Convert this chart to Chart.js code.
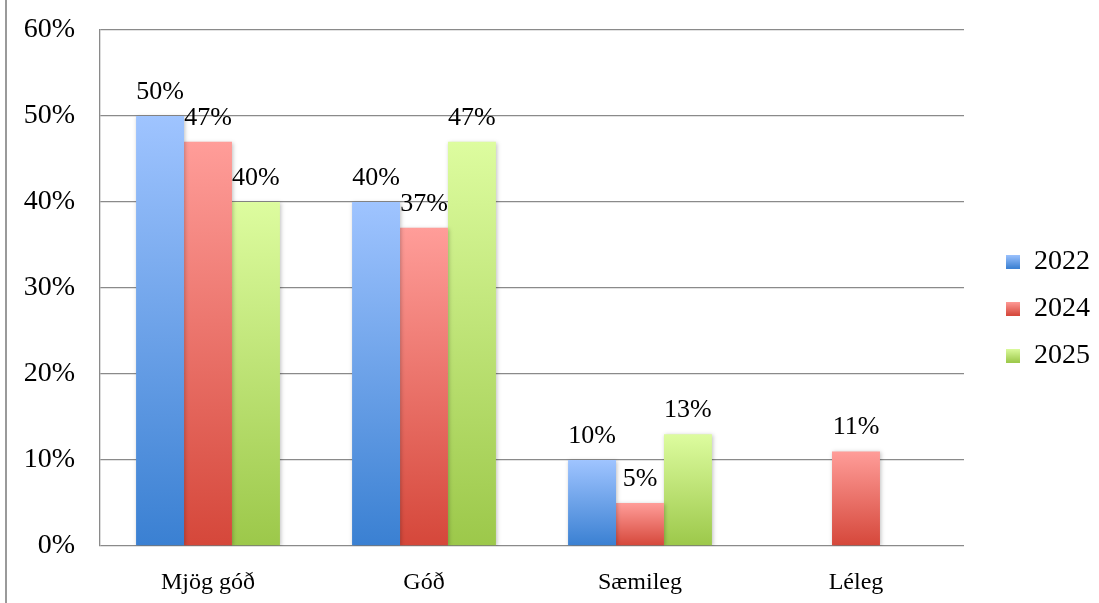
<!DOCTYPE html>
<html>
<head>
<meta charset="utf-8">
<script src="https://cdn.jsdelivr.net/npm/chart.js@4/dist/chart.umd.min.js"></script>
<style>
  html, body { margin: 0; padding: 0; background: #fff; }
  #wrap { position: relative; width: 1099px; height: 603px; }
  #edge { position: absolute; left: 5px; top: 0; width: 2px; height: 603px; background: #9a9a9a; }
</style>
</head>
<body>
<div id="wrap">
  <div id="edge"></div>
  <canvas id="chart"></canvas>
</div>
<script>
const categories = ['Mjög góð', 'Góð', 'Sæmileg', 'Léleg'];
const years = ['2022', '2024', '2025'];
const values2022 = [50, 40, 10, null];
const values2024 = [47, 37, 5, 11];
const values2025 = [40, 47, 13, null];

// top -> bottom gradient stops
const blueStops = ['#9fc4ff', '#3a80d2'];
const redStops = ['#ff9d99', '#d5473a'];
const greenStops = ['#ddfc9f', '#9cc84a'];

const FONT = "'Liberation Serif', serif";

function barGradient(context, stops) {
    const chart = context.chart;
    const { ctx, chartArea, scales } = chart;
    if (!chartArea || context.type !== 'data' || context.raw == null) return stops[0];
    const top = scales.y.getPixelForValue(context.raw);
    const bottom = scales.y.getPixelForValue(0);
    const g = ctx.createLinearGradient(0, top, 0, bottom);
    g.addColorStop(0, stops[0]);
    g.addColorStop(1, stops[1]);
    return g;
}

function swatch(stops) {
    const c = document.createElement('canvas');
    c.width = 14; c.height = 14;
    const x = c.getContext('2d');
    const g = x.createLinearGradient(0, 0, 0, 14);
    g.addColorStop(0, stops[0]);
    g.addColorStop(1, stops[1]);
    x.fillStyle = g;
    x.fillRect(0, 0, 14, 14);
    return c;
}

const allStops = [blueStops, redStops, greenStops];

// soft shadow behind bars
const barShadow = {
    id: 'barShadow',
    beforeDatasetsDraw(chart) {
        const ctx = chart.ctx;
        ctx.save();
        ctx.shadowColor = 'rgba(0,0,0,0.25)';
        ctx.shadowBlur = 4;
        ctx.shadowOffsetX = 1;
        ctx.shadowOffsetY = 1;
    },
    afterDatasetsDraw(chart) {
        chart.ctx.restore();
    }
};

// nudge the legend block
const legendShift = {
    id: 'legendShift',
    afterLayout(chart) {
        const lg = chart.legend;
        if (!lg) return;
        lg.top -= 8;
        lg.bottom -= 8;
        lg.left += 23;
        lg.right += 23;
    }
};

// value labels above bars
const valueLabels = {
    id: 'valueLabels',
    afterDraw(chart) {
        const ctx = chart.ctx;
        ctx.save();
        ctx.font = '26px ' + FONT;
        ctx.fillStyle = '#000';
        ctx.textAlign = 'center';
        ctx.textBaseline = 'middle';
        chart.data.datasets.forEach((ds, i) => {
            chart.getDatasetMeta(i).data.forEach((bar, j) => {
                const v = ds.data[j];
                if (v == null) return;
                ctx.fillText(v + '%', bar.x, bar.y - 24);
            });
        });
        ctx.restore();
    }
};

const datasets = [values2022, values2024, values2025].map((vals, i) => ({
    label: years[i],
    data: vals,
    backgroundColor: ctx => barGradient(ctx, allStops[i]),
    borderWidth: 0,
    barPercentage: 1,
    categoryPercentage: 0.666
}));

new Chart(document.getElementById('chart'), {
    type: 'bar',
    data: { labels: categories, datasets },
    options: {
        responsive: true,
        maintainAspectRatio: false,
        animation: false,
        layout: { padding: { top: 30, right: 22, bottom: 0, left: 0 } },
        plugins: {
            tooltip: { enabled: false },
            legend: {
                position: 'right',
                labels: {
                    usePointStyle: true,
                    boxWidth: 14,
                    boxHeight: 14,
                    padding: 19,
                    color: '#000',
                    font: { family: FONT, size: 28 },
                    generateLabels: chart => chart.data.datasets.map((ds, i) => ({
                        text: ds.label,
                        datasetIndex: i,
                        pointStyle: swatch(allStops[i]),
                        fillStyle: allStops[i][0],
                        strokeStyle: 'transparent',
                        lineWidth: 0,
                        hidden: false,
                        fontColor: '#000'
                    }))
                }
            }
        },
        scales: {
            x: {
                grid: { display: false },
                border: { display: false },
                ticks: { color: '#000', padding: 14, font: { family: FONT, size: 24 } },
                afterFit: s => { s.height = 57; s.paddingLeft = 0; s.paddingRight = 0; }
            },
            y: {
                min: 0,
                max: 60,
                grid: { color: '#8a8a8a', lineWidth: 1.3, drawTicks: false },
                border: { display: true, color: '#8a8a8a', width: 1.3 },
                ticks: {
                    stepSize: 10,
                    color: '#000',
                    padding: 25,
                    font: { family: FONT, size: 28 },
                    callback: v => v + '%'
                },
                afterFit: s => { s.width = 100; s.paddingTop = 0; s.paddingBottom = 0; }
            }
        }
    },
    plugins: [barShadow, legendShift, valueLabels]
});
</script>
</body>
</html>
